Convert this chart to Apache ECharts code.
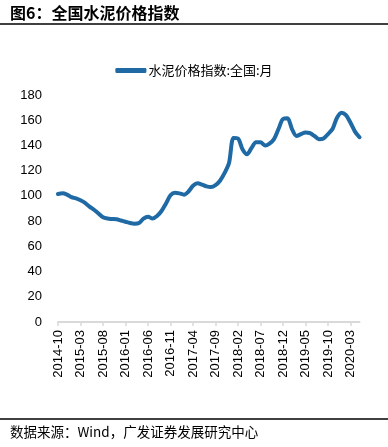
<!DOCTYPE html>
<html>
<head>
<meta charset="utf-8">
<script src="https://cdn.jsdelivr.net/npm/echarts@6/dist/echarts.min.js"></script>
<style>
html,body{margin:0;padding:0;background:#fff;}
#c{width:388px;height:447px;}
</style>
</head>
<body>
<div id="c"></div>
<script>
var titleText = '图6：全国水泥价格指数';
var sourceText = '数据来源：Wind，广发证券发展研究中心';
var seriesName = '水泥价格指数:全国:月';
var yTicks = [0, 20, 40, 60, 80, 100, 120, 140, 160, 180];
var months = [
'2014-10','2014-11','2014-12',
'2015-01','2015-02','2015-03','2015-04','2015-05','2015-06','2015-07','2015-08','2015-09','2015-10','2015-11','2015-12',
'2016-01','2016-02','2016-03','2016-04','2016-05','2016-06','2016-07','2016-08','2016-09','2016-10','2016-11','2016-12',
'2017-01','2017-02','2017-03','2017-04','2017-05','2017-06','2017-07','2017-08','2017-09','2017-10','2017-11','2017-12',
'2018-01','2018-02','2018-03','2018-04','2018-05','2018-06','2018-07','2018-08','2018-09','2018-10','2018-11','2018-12',
'2019-01','2019-02','2019-03','2019-04','2019-05','2019-06','2019-07','2019-08','2019-09','2019-10','2019-11','2019-12',
'2020-01','2020-02','2020-03','2020-04','2020-05'
];
var cementIndex = [
101.5,102,101,99,98,96.5,94.5,91.5,89,86,83,82,81.7,81.5,80.5,
79.5,78.5,78,78.5,82,83.5,82,84,88,94,100.5,102.5,
102,101,103.5,108,110,109,107.5,107,108.5,112,118,126,
146,145.5,137,133,138,142.5,142.5,140,141.5,145,153,161,
161.5,153,147.5,149,150.3,149.7,147.5,145,145.5,149,153,162,
166,164,158,151,146.5
];

var chart = echarts.init(document.getElementById('c'), null, {renderer: 'canvas'});
chart.setOption({
  animation: false,
  backgroundColor: '#fff',
  graphic: [
    {type: 'text', left: 10, top: 5, style: {text: titleText, font: 'bold 16px "Noto Sans CJK SC", "Liberation Sans", sans-serif', fill: '#000'}},
    {type: 'line', shape: {x1: 0, y1: 24, x2: 388, y2: 24}, style: {stroke: '#000', lineWidth: 1.5}},
    {type: 'line', shape: {x1: 0, y1: 419, x2: 388, y2: 419}, style: {stroke: '#000', lineWidth: 1.5}},
    {type: 'text', left: 10, top: 425, style: {text: sourceText, font: '13.5px "Noto Sans CJK SC", "Liberation Sans", sans-serif', fill: '#000'}}
  ],
  legend: {
    top: 59,
    left: 'center',
    icon: 'roundRect',
    itemWidth: 31,
    itemHeight: 5,
    itemGap: 10,
    textStyle: {fontSize: 13, color: '#000', fontFamily: '"Noto Sans CJK SC", sans-serif', padding: [0, 0, 0, -3]},
    data: [seriesName]
  },
  grid: {left: 58, right: 28.5, top: 95, bottom: 125, containLabel: false},
  xAxis: {
    type: 'category',
    data: months,
    boundaryGap: false,
    axisLine: {lineStyle: {color: '#d9d9d9', width: 2}},
    axisTick: {show: true, interval: 4, length: 4, lineStyle: {color: '#d9d9d9', width: 1.5}},
    axisLabel: {interval: 4, rotate: 90, margin: 8, color: '#000', fontSize: 13, fontFamily: '"Liberation Sans", Arial, sans-serif'},
    splitLine: {show: false}
  },
  yAxis: {
    type: 'value',
    min: yTicks[0],
    max: yTicks[yTicks.length - 1],
    interval: 20,
    axisLine: {show: false},
    axisTick: {show: false},
    splitLine: {show: false},
    axisLabel: {margin: 16, color: '#000', fontSize: 13, fontFamily: '"Liberation Sans", Arial, sans-serif'}
  },
  series: [{
    name: seriesName,
    type: 'line',
    data: cementIndex,
    smooth: 0.3,
    showSymbol: false,
    symbol: 'none',
    lineStyle: {color: '#1f6aa5', width: 4, cap: 'round', join: 'round'},
    itemStyle: {color: '#1f6aa5'}
  }]
});
</script>
</body>
</html>
